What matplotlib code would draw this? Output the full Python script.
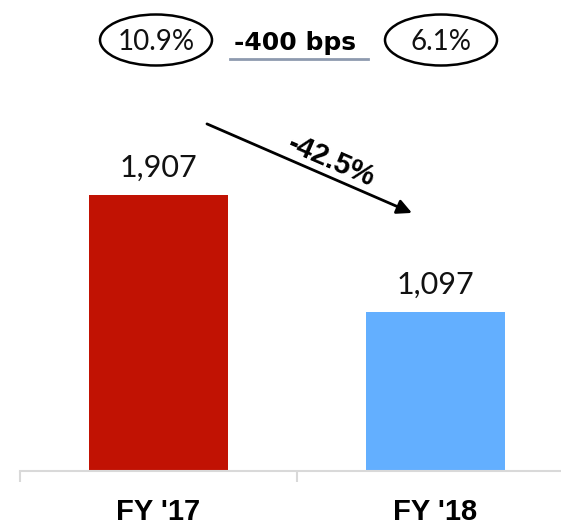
import matplotlib
matplotlib.use("Agg")
import matplotlib.pyplot as plt
from matplotlib.patches import Ellipse
from matplotlib.lines import Line2D

# EBITDA-style comparison, two fiscal years
years = ["FY '17", "FY '18"]
values = [1907, 1097]
colors = ["#C11203", "#63AFFF"]
margins = ["10.9%", "6.1%"]
margin_change = "-400 bps"
growth = "-42.5%"

W, H = 561, 525
fig = plt.figure(figsize=(W / 100, H / 100), dpi=100)


def fx(x):
    return x / W


def fy(y):
    return 1 - y / H


# axes runs past the right edge so the baseline reaches the border
ax = fig.add_axes([fx(20), 54 / H, 554 / W, 471 / H])
x = range(len(years))
ax.bar(x, values, width=0.5, color=colors)
ax.set_xlim(-0.5, 1.5)
ax.set_ylim(0, 3254)

for s in ["top", "left", "right"]:
    ax.spines[s].set_visible(False)
ax.spines["bottom"].set_color("#D9D9D9")
ax.spines["bottom"].set_linewidth(1.5)
ax.set_yticks([])
ax.set_xticks([-0.5, 0.5, 1.5])
ax.set_xticklabels([])
ax.tick_params(axis="x", length=8, width=1.5, color="#D9D9D9")

# value labels above bars
for i, v in enumerate(values):
    ax.annotate(f"{v:,}", xy=(i, v), xytext=(0, 13), textcoords="offset points",
                ha="center", va="baseline", fontsize=22, family="Lato",
                color="#111111")

# category labels
for i, yr in enumerate(years):
    ax.annotate(yr, xy=(i, 0), xycoords=("data", "axes fraction"),
                xytext=(0, -35), textcoords="offset points",
                ha="center", va="baseline", fontsize=21, family="Liberation Sans",
                fontweight="bold", color="black")

# growth arrow between the bars
ax.annotate("", xy=(0.915, 1783), xytext=(0.175, 2398),
            arrowprops=dict(arrowstyle="-|>", color="black", lw=2,
                            mutation_scale=22, shrinkA=0, shrinkB=0))
ax.text(0.625, 2140, growth, rotation=-23.5, ha="center", va="center",
        fontsize=21, fontweight="bold", family="Liberation Sans")

# margin header
for cx, m in zip([156, 441], margins):
    fig.patches.append(Ellipse((fx(cx), fy(40)), 112 / W, 51 / H,
                               transform=fig.transFigure, fill=False,
                               edgecolor="black", lw=1.8))
    fig.text(fx(cx), fy(50), m, ha="center", va="baseline", fontsize=20,
             family="Lato", color="#111111")

fig.text(fx(295), fy(50), margin_change, ha="center", va="baseline",
         fontsize=18, fontweight="bold", family="DejaVu Sans")
fig.lines.append(Line2D([fx(230), fx(368)], [fy(59), fy(59)],
                        transform=fig.transFigure, color="#8E9AAF", lw=2))

fig.savefig("out.png", dpi=100)
